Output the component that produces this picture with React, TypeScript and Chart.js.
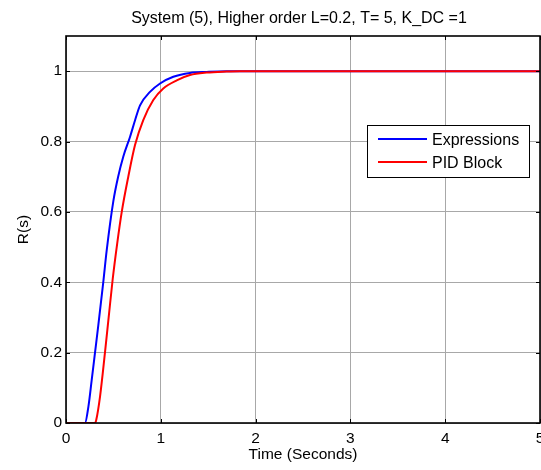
import React, { useEffect, useRef } from "react";
import { Chart, registerables } from "chart.js";

Chart.register(...registerables);

const TITLE = "System (5), Higher order L=0.2, T= 5, K_DC =1";
const X_LABEL = "Time (Seconds)";
const Y_LABEL = "R(s)";
const SERIES_NAMES = ["Expressions", "PID Block"];
const SERIES_COLORS = ["#0000ff", "#ff0000"];

const expressionsT = [0, 0.2, 0.236, 0.271, 0.306, 0.341, 0.393, 0.429, 0.499, 0.55, 0.604, 0.675, 0.73, 0.781, 0.886, 0.992, 1.132, 1.308, 1.484, 1.695, 5];
const expressionsR = [0, 0, 0.046, 0.122, 0.2, 0.278, 0.4, 0.49, 0.63, 0.7, 0.757, 0.813, 0.862, 0.903, 0.941, 0.965, 0.984, 0.995, 0.998, 1.0, 1.0];

const pidT = [0, 0.306, 0.32, 0.359, 0.411, 0.45, 0.493, 0.54, 0.588, 0.657, 0.728, 0.815, 0.921, 1.026, 1.168, 1.308, 1.484, 1.695, 1.835, 5];
const pidR = [0, 0, 0.01, 0.075, 0.2, 0.3, 0.41, 0.51, 0.6, 0.7, 0.79, 0.861, 0.918, 0.951, 0.974, 0.989, 0.996, 0.999, 1.0, 1.0];

const X_MIN = 0;
const X_MAX = 5;
const X_STEP = 1;
const Y_MIN = 0;
const Y_MAX = 1.1;
const Y_STEP = 0.2;
const Y_TICK_LAST = 1;

const FONT = "'Liberation Sans', Arial, Helvetica, sans-serif";

const toPoints = (t: number[], r: number[]) => t.map((x, i) => ({ x, y: r[i] }));
const fmt = (v: any) => String(Number(Number(v).toFixed(2)));

const framePlugin = {
  id: "frame",
  afterDatasetsDraw(chart: any) {
    const { ctx, chartArea: a, scales } = chart;
    ctx.save();
    ctx.strokeStyle = "#000";
    ctx.lineWidth = 1;
    const tl = 4;
    ctx.beginPath();
    scales.x.ticks.forEach((t: any) => {
      const px = Math.round(scales.x.getPixelForValue(t.value)) + 0.5;
      ctx.moveTo(px, a.bottom);
      ctx.lineTo(px, a.bottom - tl);
      ctx.moveTo(px, a.top);
      ctx.lineTo(px, a.top + tl);
    });
    scales.y.ticks.forEach((t: any) => {
      const py = Math.round(scales.y.getPixelForValue(t.value)) + 0.5;
      ctx.moveTo(a.left, py);
      ctx.lineTo(a.left + tl, py);
      ctx.moveTo(a.right, py);
      ctx.lineTo(a.right - tl, py);
    });
    ctx.stroke();
    ctx.lineWidth = 1.6;
    ctx.strokeRect(a.left, a.top, a.right - a.left, a.bottom - a.top);
    ctx.restore();
  },
  afterDraw(chart: any) {
    const { ctx } = chart;
    ctx.save();
    ctx.fillStyle = "#000";
    ctx.font = `16px ${FONT}`;
    ctx.textAlign = "center";
    ctx.textBaseline = "middle";
    ctx.fillText(TITLE, 299, 19);
    const bx = 367, by = 125, bw = 162, bh = 52;
    ctx.fillStyle = "#fff";
    ctx.fillRect(bx, by, bw, bh);
    ctx.strokeStyle = "#000";
    ctx.lineWidth = 1;
    ctx.strokeRect(bx + 0.5, by + 0.5, bw, bh);
    chart.data.datasets.forEach((ds: any, i: number) => {
      const ly = 139 + i * 23;
      ctx.strokeStyle = ds.borderColor;
      ctx.lineWidth = 2;
      ctx.beginPath();
      ctx.moveTo(378, ly);
      ctx.lineTo(427, ly);
      ctx.stroke();
      ctx.fillStyle = "#000";
      ctx.font = `16px ${FONT}`;
      ctx.textAlign = "left";
      ctx.textBaseline = "middle";
      ctx.fillText(ds.label, 432, ly + 2);
    });
    ctx.restore();
  },
};

export default function App() {
  const ref = useRef<HTMLCanvasElement>(null);
  useEffect(() => {
    if (!ref.current) return;
    const chart = new Chart(ref.current, {
      type: "line",
      data: {
        datasets: [
          {
            label: SERIES_NAMES[0],
            data: toPoints(expressionsT, expressionsR),
            borderColor: SERIES_COLORS[0],
            backgroundColor: SERIES_COLORS[0],
            borderWidth: 2,
            pointRadius: 0,
            cubicInterpolationMode: "monotone",
            order: 1,
          },
          {
            label: SERIES_NAMES[1],
            data: toPoints(pidT, pidR),
            borderColor: SERIES_COLORS[1],
            backgroundColor: SERIES_COLORS[1],
            borderWidth: 2,
            pointRadius: 0,
            cubicInterpolationMode: "monotone",
            order: 0,
          },
        ],
      },
      options: {
        animation: false,
        responsive: false,
        layout: { padding: { top: 36, right: 1, left: 0, bottom: 0 } },
        plugins: {
          legend: { display: false },
          title: { display: false },
          tooltip: { enabled: false },
        },
        scales: {
          x: {
            type: "linear",
            min: X_MIN,
            max: X_MAX,
            ticks: {
              stepSize: X_STEP,
              color: "#000",
              font: { family: FONT, size: 15.5 },
              padding: 6,
              maxRotation: 0,
              callback: fmt,
            },
            grid: { color: "#a8a8a8", lineWidth: 1, drawTicks: false },
            border: { display: false },
            title: {
              display: true,
              text: X_LABEL,
              color: "#000",
              font: { family: FONT, size: 15.5 },
              padding: { top: 0, bottom: 6 },
            },
            afterFit: (s: any) => {
              s.height = 47;
              s.paddingLeft = 0;
              s.paddingRight = 0;
            },
          },
          y: {
            type: "linear",
            min: Y_MIN,
            max: Y_MAX,
            ticks: {
              stepSize: Y_STEP,
              color: "#000",
              font: { family: FONT, size: 15.5 },
              padding: 4,
              callback: fmt,
            },
            afterBuildTicks: (s: any) => {
              s.ticks = s.ticks.filter((t: any) => t.value <= Y_TICK_LAST + 1e-9);
            },
            grid: { color: "#a8a8a8", lineWidth: 1, drawTicks: false },
            border: { display: false },
            title: {
              display: true,
              text: Y_LABEL,
              color: "#000",
              font: { family: FONT, size: 15.5 },
              padding: { top: 14, bottom: 0 },
            },
            afterFit: (s: any) => {
              s.width = 66;
              s.paddingTop = 0;
              s.paddingBottom = 0;
            },
          },
        },
      },
      plugins: [framePlugin],
    });
    return () => chart.destroy();
  }, []);
  return (
    <div style={{ position: "fixed", left: 0, top: 0, width: 541, height: 470, background: "#fff" }}>
      <canvas ref={ref} width={541} height={470} style={{ display: "block" }} />
    </div>
  );
}
